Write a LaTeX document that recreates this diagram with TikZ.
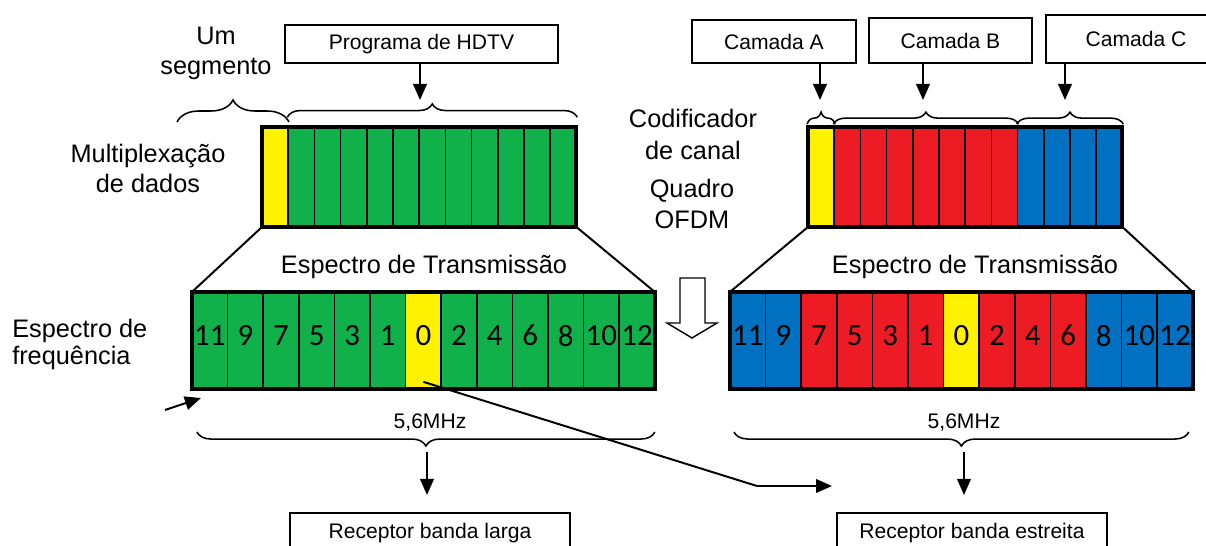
\documentclass[tikz,border=0pt]{standalone}
\usepackage{fontspec}
\setmainfont{Liberation Sans}
\newfontfamily\numeros{Carlito}
\usetikzlibrary{arrows.meta,decorations.pathreplacing}

\definecolor{verde}{RGB}{16,176,74}
\definecolor{vermelho}{RGB}{237,28,36}
\definecolor{azul}{RGB}{0,112,192}
\definecolor{amarelo}{RGB}{255,242,0}

\tikzset{
  rotulo/.style={font=\fontsize{18}{21.3}\selectfont, align=center, inner sep=0pt},
  caixa/.style={draw, line width=1.1pt, font=\fontsize{15}{18}\selectfont, inner sep=0pt},
  seta/.style={line width=1.4pt, -{Triangle[length=0.4cm, width=0.34cm]}},
  chave/.style={decorate, decoration={brace, amplitude=#1}, line width=1.1pt},
  seg/.style={draw, line width=1.2pt, minimum width=0.655cm, minimum height=2.5cm, inner sep=0pt},
  freq/.style={draw, line width=1.2pt, minimum width=0.89cm, minimum height=2.425cm,
    inner sep=0pt, text depth=0.25cm, font=\numeros\fontsize{22}{22}\selectfont},
  moldura/.style={draw, line width=2.8pt, inner sep=0pt, outer sep=0pt},
}

\begin{document}
\begin{tikzpicture}[x=0.025cm, y=-0.025cm]

    \clip (0,0) rectangle (1206,546);

    \def\larq{26.2} % largura de um segmento do quadro
    \def\larf{35.6} % largura de um segmento do espectro

    % Quadros OFDM
    \foreach \c [count=\i] in {amarelo,verde,verde,verde,verde,verde,verde,verde,verde,verde,verde,verde}
        \node[seg, fill=\c] (qe\i) at ({262+\larq*(\i-0.5)}, 177) {};
    \foreach \c [count=\i] in {amarelo,vermelho,vermelho,vermelho,vermelho,vermelho,vermelho,vermelho,azul,azul,azul,azul}
        \node[seg, fill=\c] (qd\i) at ({808+\larq*(\i-0.5)}, 177) {};
    \node[moldura, minimum width=7.86cm, minimum height=2.5cm] (quadroE) at (419.2,177) {};
    \node[moldura, minimum width=7.86cm, minimum height=2.5cm] (quadroD) at (965.2,177) {};

    % Espectros de transmissao
    \foreach \n/\c [count=\i] in {11/verde,9/verde,7/verde,5/verde,3/verde,1/verde,0/amarelo,2/verde,4/verde,6/verde,8/verde,10/verde,12/verde}
        \node[freq, fill=\c] (fe\i) at ({192+\larf*(\i-0.5)}, 340.5) {\n};
    \foreach \n/\c [count=\i] in {11/azul,9/azul,7/vermelho,5/vermelho,3/vermelho,1/vermelho,0/amarelo,2/vermelho,4/vermelho,6/vermelho,8/azul,10/azul,12/azul}
        \node[freq, fill=\c] (fd\i) at ({730+\larf*(\i-0.5)}, 340.5) {\n};
    \node[moldura, minimum width=11.57cm, minimum height=2.425cm] (espE) at (423.4,340.5) {};
    \node[moldura, minimum width=11.57cm, minimum height=2.425cm] (espD) at (961.4,340.5) {};

    % Linhas do trapezio
    \draw[line width=1.4pt] (quadroE.south west) -- (espE.north west);
    \draw[line width=1.4pt] (quadroE.south east) -- (espE.north east);
    \draw[line width=1.4pt] (quadroD.south west) -- (espD.north west);
    \draw[line width=1.4pt] (quadroD.south east) -- (espD.north east);

    % Seta vazada
    \draw[line width=1pt, fill=white] (680,278) -- (705,278) -- (705,323) -- (717,323)
        -- (692,338) -- (667,323) -- (680,323) -- cycle;

    % Chaves
    \draw[chave=0.55cm] (177,122) -- (289,122);
    \draw[chave=0.33cm] ([yshift=0.225cm]qe2.north west) -- ([yshift=0.225cm]qe12.north east);
    \draw[chave=0.3cm] ([yshift=0.05cm]qd1.north west) -- ([yshift=0.05cm]qd1.north east);
    \draw[chave=0.3cm] ([yshift=0.05cm]qd2.north west) -- ([yshift=0.05cm]qd8.north east);
    \draw[chave=0.3cm] ([yshift=0.05cm]qd9.north west) -- ([yshift=0.05cm]qd12.north east);
    \draw[chave=0.35cm] ([yshift=-1.075cm]espE.south east) -- ([xshift=0.125cm,yshift=-1.075cm]espE.south west);
    \draw[chave=0.35cm] ([xshift=-0.1cm,yshift=-1.075cm]espD.south east) -- ([xshift=0.1cm,yshift=-1.075cm]espD.south west);

    % Caixas
    \node[caixa, minimum width=6.825cm, minimum height=0.95cm] (prog) at (421.5,44) {Programa de HDTV};
    \node[caixa, minimum width=4.1cm, minimum height=1.075cm] (camA) at (774,41.5) {Camada A};
    \node[caixa, minimum width=4.075cm, minimum height=1.125cm] (camB) at (950.5,40.5) {Camada B};
    \node[caixa, minimum width=4.5cm, minimum height=1.2cm] (camC) at (1136,39) {Camada C};
    \node[caixa, minimum width=7cm, minimum height=1cm] (larga) at (430,533) {Receptor banda larga};
    \node[caixa, minimum width=6.75cm, minimum height=1cm] (estreita) at (972,533) {Receptor banda estreita};

    % Setas
    \coordinate (pHD) at (420,100);
    \coordinate (pA) at (820,100);
    \coordinate (pB) at (923,100);
    \coordinate (pC) at (1065,100);
    \draw[seta] (prog.south -| pHD) -- (pHD);
    \draw[seta] (camA.south -| pA) -- (pA);
    \draw[seta] (camB.south -| pB) -- (pB);
    \draw[seta] (camC.south -| pC) -- (pC);

    \coordinate (chE) at (427,452);
    \coordinate (fimE) at (427,495);
    \coordinate (chD) at (964,452);
    \coordinate (fimD) at (964,495);
    \draw[seta] (chE) -- (fimE);
    \draw[seta] (chD) -- (fimD);

    \coordinate (iniP) at (165,410);
    \draw[seta] (iniP) -- ([shift={(0.225cm,-0.225cm)}]espE.south west);

    \coordinate (dobra) at (757,486);
    \coordinate (fimL) at (832,486);
    \draw[seta] ([yshift=0.2cm]fe7.south) -- (dobra) -- (fimL);

    % Rotulos
    \node[rotulo] (um) at (216,53.5) {Um\\segmento};
    \node[rotulo] (mux) at (148,168) {Multiplexação\\de dados};
    \node[rotulo, align=left, anchor=west, font=\fontsize{18}{19.2}\selectfont] (freqlab) at (12,344) {Espectro de\\frequência};
    \node[rotulo, font=\fontsize{18}{22.8}\selectfont] (cod) at (693,134.5) {Codificador\\de canal};
    \node[rotulo, font=\fontsize{18}{22}\selectfont] (ofdm) at (692,203.5) {Quadro\\OFDM};
    \node[rotulo, anchor=base] (transE) at (424,273) {Espectro de Transmissão};
    \node[rotulo, anchor=base] (transD) at (975,273) {Espectro de Transmissão};
    \node[rotulo, anchor=base, font=\fontsize{15}{18}\selectfont] (mhzE) at (430,428) {5,6MHz};
    \node[rotulo, anchor=base, font=\fontsize{15}{18}\selectfont] (mhzD) at (964,428) {5,6MHz};

\end{tikzpicture}
\end{document}
